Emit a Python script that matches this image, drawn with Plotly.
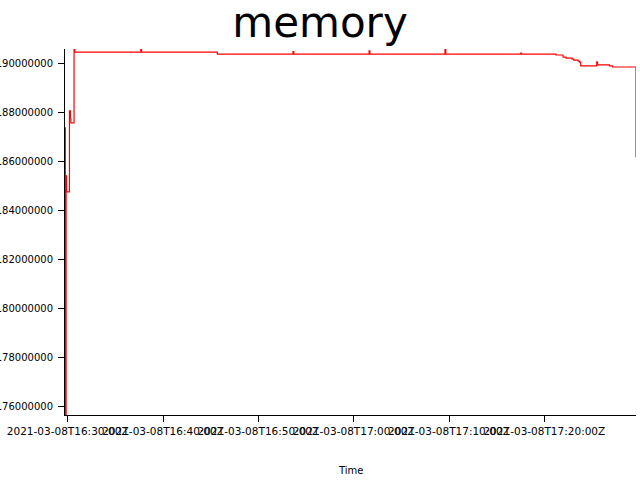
import plotly.graph_objects as go

# Timestamps (step change points) and memory values in bytes
times = [
    "2021-03-08 16:29:43", "2021-03-08 16:29:45", "2021-03-08 16:29:50", "2021-03-08 16:29:53",
    "2021-03-08 16:30:11", "2021-03-08 16:30:17", "2021-03-08 16:30:20", "2021-03-08 16:30:40",
    "2021-03-08 16:30:45", "2021-03-08 16:37:40", "2021-03-08 16:37:45", "2021-03-08 16:45:42",
    "2021-03-08 16:53:38", "2021-03-08 16:53:43", "2021-03-08 17:01:37", "2021-03-08 17:01:42",
    "2021-03-08 17:09:35", "2021-03-08 17:09:40", "2021-03-08 17:17:32", "2021-03-08 17:17:37",
    "2021-03-08 17:21:14", "2021-03-08 17:21:58", "2021-03-08 17:22:17", "2021-03-08 17:22:55",
    "2021-03-08 17:23:05", "2021-03-08 17:23:33", "2021-03-08 17:23:42", "2021-03-08 17:23:49",
    "2021-03-08 17:25:30", "2021-03-08 17:25:35", "2021-03-08 17:26:50", "2021-03-08 17:27:09",
    "2021-03-08 17:29:30", "2021-03-08 17:29:37",
]
memory = [
    187360000, 175645000, 185400000, 184750000,
    188050000, 187730000, 187560000, 190575000,
    190450000, 190560000, 190450000, 190370000,
    190470000, 190370000, 190500000, 190370000,
    190550000, 190370000, 190410000, 190370000,
    190330000, 190240000, 190200000, 190160000,
    190120000, 190080000, 190040000, 189890000,
    190050000, 189930000, 189890000, 189840000,
    189840000, 186160000,
]

tick_times = [
    "2021-03-08 16:30:00", "2021-03-08 16:40:00", "2021-03-08 16:50:00",
    "2021-03-08 17:00:00", "2021-03-08 17:10:00", "2021-03-08 17:20:00",
]
tick_labels = [
    "2021-03-08T16:30:00Z", "2021-03-08T16:40:00Z", "2021-03-08T16:50:00Z",
    "2021-03-08T17:00:00Z", "2021-03-08T17:10:00Z", "2021-03-08T17:20:00Z",
]

FONT = "DejaVu Sans"

fig = go.Figure(
    go.Scatter(
        x=times, y=memory, mode="lines",
        line=dict(color="#ff0000", width=1.2, shape="hv"),
        showlegend=False,
    )
)

fig.update_layout(
    width=640, height=480,
    paper_bgcolor="white", plot_bgcolor="white",
    margin=dict(l=65, r=4, t=49, b=65),
    font=dict(family=FONT, size=10, color="black"),
    title=dict(text="memory", font=dict(family=FONT, size=42, color="black"),
               x=0.5, xref="container", xanchor="center",
               y=0.9835, yref="container", yanchor="top"),
    xaxis=dict(
        type="date", range=[times[0], times[-1]],
        tickvals=tick_times, ticktext=tick_labels, tickangle=0,
        showgrid=False, zeroline=False,
        showline=True, linecolor="black", linewidth=1,
        ticks="outside", ticklen=6, tickcolor="black",
        tickfont=dict(family=FONT, size=10.5, color="black"),
        automargin=False,
    ),
    yaxis=dict(
        range=[min(memory), max(memory)],
        dtick=2000000, tick0=0, tickformat="d",
        showgrid=False, zeroline=False,
        showline=True, linecolor="black", linewidth=1,
        ticks="outside", ticklen=6, tickcolor="black",
        ticklabelstandoff=3,
        tickfont=dict(family=FONT, size=10, color="black"),
        automargin=False,
    ),
    annotations=[dict(
        text="Time", xref="paper", yref="paper", x=0.5, y=0,
        xanchor="center", yanchor="middle", yshift=-55, showarrow=False,
        font=dict(family=FONT, size=10, color="black"),
    )],
)

fig.write_html("out.html", config={"displayModeBar": False},
               post_script="document.body.style.margin='0';")
